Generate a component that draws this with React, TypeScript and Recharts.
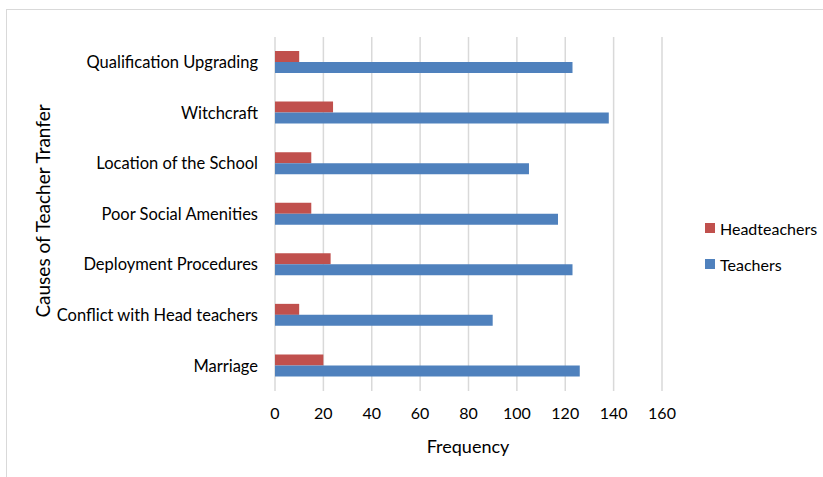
import React from 'react';
import { BarChart, Bar, XAxis, YAxis, CartesianGrid, Legend, Label } from 'recharts';

const categories = [
  'Qualification Upgrading',
  'Witchcraft',
  'Location of the School',
  'Poor Social Amenities',
  'Deployment Procedures',
  'Conflict with Head teachers',
  'Marriage',
];
const headteachers = [10, 24, 15, 15, 23, 10, 20];
const teachers = [123, 138, 105, 117, 123, 90, 126];
const xTicks = [0, 20, 40, 60, 80, 100, 120, 140, 160];

const HEAD_COLOR = '#C0504D';
const TEACH_COLOR = '#4F81BD';
const FONT = 'Lato, "Open Sans", sans-serif';

const data = categories.map((c, i) => ({
  cause: c,
  Headteachers: headteachers[i],
  Teachers: teachers[i],
}));

const renderLegend = (props: any) => {
  const payload = props.payload || [];
  return (
    <div style={{ fontFamily: FONT, fontSize: 16, color: '#000' }}>
      {payload.map((entry: any) => (
        <div key={entry.value} style={{ display: 'flex', alignItems: 'center', height: 36 }}>
          <span style={{ display: 'inline-block', width: 10, height: 10, background: entry.color, marginRight: 5 }} />
          <span>{entry.value}</span>
        </div>
      ))}
    </div>
  );
};

export default function App() {
  return (
    <div style={{ position: 'absolute', left: 0, top: 0, width: 823, height: 477, overflow: 'hidden', background: '#fff' }}>
      <div style={{ position: 'absolute', left: 6, top: 9, width: 900, height: 600, border: '1.5px solid #d9d9d9' }} />
      <div style={{ position: 'absolute', left: 0, top: 0 }}>
        <BarChart
          width={823}
          height={477}
          data={data}
          layout="vertical"
          margin={{ top: 37, right: 161, left: 0, bottom: 46 }}
          barGap={0}
        >
          <CartesianGrid horizontal={false} stroke="#d9d9d9" strokeWidth={1.5} />
          <XAxis
            type="number"
            domain={[0, 160]}
            ticks={xTicks}
            axisLine={false}
            tickLine={false}
            tickSize={0}
            tickMargin={17}
            height={40}
            tick={{ fill: '#000', fontSize: 16, fontFamily: FONT }}
          >
            <Label
              content={() => (
                <text x={468} y={446} textAnchor="middle" dominantBaseline="central" fill="#000" fontSize={18} fontFamily={FONT}>
                  Frequency
                </text>
              )}
            />
          </XAxis>
          <YAxis
            type="category"
            dataKey="cause"
            width={275}
            axisLine={false}
            tickLine={false}
            tickSize={0}
            tickMargin={17}
            interval={0}
            tick={{ fill: '#000', fontSize: 16.5, fontFamily: FONT }}
          >
            <Label
              content={() => (
                <text
                  x={42}
                  y={211}
                  transform="rotate(-90 42 211)"
                  textAnchor="middle"
                  dominantBaseline="central"
                  fill="#000"
                  fontSize={19}
                  fontFamily={FONT}
                >
                  Causes of Teacher Tranfer
                </text>
              )}
            />
          </YAxis>
          <Legend
            layout="vertical"
            align="center"
            verticalAlign="middle"
            content={renderLegend}
            wrapperStyle={{ position: 'absolute', left: 705, top: 210, width: 118 }}
          />
          <Bar dataKey="Headteachers" fill={HEAD_COLOR} barSize={11} isAnimationActive={false} />
          <Bar dataKey="Teachers" fill={TEACH_COLOR} barSize={11} isAnimationActive={false} />
        </BarChart>
      </div>
    </div>
  );
}
